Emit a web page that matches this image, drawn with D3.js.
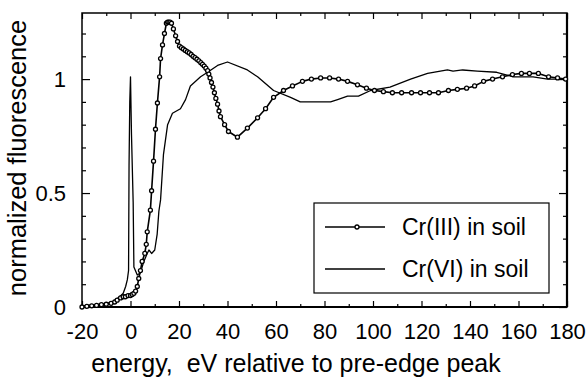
<!DOCTYPE html>
<html>
<head>
<meta charset="utf-8">
<script src="https://cdn.jsdelivr.net/npm/d3@7"></script>
<style>
  html, body { margin: 0; padding: 0; background: #fff; }
  svg { display: block; }
  text { font-family: "Liberation Sans", Arial, Helvetica, sans-serif; fill: #000; }
</style>
</head>
<body>
<svg id="chart" width="586" height="379"></svg>
<script>
// ---- data ----
const seriesNames = ["Cr(III) in soil", "Cr(VI) in soil"];

const crIIIEnergy = [-20, -18, -16, -14, -12, -10, -8, -6.5, -5.5, -4.1, -3, -2.1, -1, 0, 0.7, 1.4, 2.1, 2.8, 3.4, 4.1, 4.8, 5.9, 6.5, 6.9, 8.2, 8.7, 9.5, 10.3, 11.1, 12, 12.4, 13.2, 14, 14.8, 15.3, 15.8, 16.3, 16.9, 17.7, 18.6, 19.4, 20.2, 21, 21.8, 22.6, 23.4, 24.2, 25, 25.8, 26.6, 27.4, 28.2, 29, 29.7, 30.4, 31.1, 31.8, 32.3, 32.8, 33.4, 34, 34.6, 35.2, 35.9, 36.5, 37.1, 38.8, 40.4, 44.1, 48.2, 52.4, 55.7, 59, 63.1, 66.8, 70.9, 74.6, 78.4, 82.1, 85.8, 89.5, 93.6, 97.3, 100.6, 104.3, 108, 111.8, 115.9, 119.6, 123.3, 127, 131.1, 134.8, 138.6, 141.9, 145.6, 149.3, 153.4, 157.5, 161.2, 164.5, 168.2, 172.4, 176.1, 179.4];
const crIIIValue = [0.0, 0.003, 0.005, 0.007, 0.01, 0.012, 0.016, 0.022, 0.03, 0.04, 0.045, 0.045, 0.05, 0.05, 0.055, 0.06, 0.07, 0.09, 0.125, 0.16, 0.2, 0.235, 0.275, 0.33, 0.425, 0.51, 0.64, 0.78, 0.895, 1.01, 1.09, 1.15, 1.2, 1.245, 1.25, 1.25, 1.25, 1.245, 1.22, 1.19, 1.165, 1.145, 1.138, 1.132, 1.126, 1.12, 1.115, 1.108, 1.1, 1.094, 1.087, 1.08, 1.072, 1.065, 1.057, 1.048, 1.037, 1.022, 1.005, 0.985, 0.965, 0.94, 0.915, 0.89, 0.86, 0.835, 0.8, 0.77, 0.745, 0.785, 0.83, 0.87, 0.92, 0.95, 0.97, 0.99, 1.0, 1.005, 1.005, 1.0, 0.99, 0.975, 0.96, 0.95, 0.945, 0.94, 0.94, 0.94, 0.94, 0.94, 0.94, 0.95, 0.955, 0.96, 0.97, 0.99, 1.0, 1.01, 1.02, 1.025, 1.025, 1.025, 1.01, 1.005, 1.0];

const crVIEnergy = [-20, -15, -10, -7, -5, -3, -2, -1.3, -0.8, -0.6, -0.3, 0, 0.4, 1.1, 1.4, 2.8, 4.1, 5.5, 6.9, 7.6, 8.7, 10.0, 11.0, 11.7, 12.4, 13.6, 15.3, 17.3, 20.6, 22.7, 24.7, 28.9, 31.8, 35.9, 40, 48.2, 52.4, 59, 66, 70, 82.5, 85.4, 89.5, 94, 99, 107, 115.5, 122.5, 130.7, 133, 137, 143, 151, 158, 166, 172, 180];
const crVIValue = [0.005, 0.01, 0.015, 0.025, 0.04, 0.06, 0.09, 0.12, 0.16, 0.62, 0.9, 1.01, 0.76, 0.46, 0.175, 0.14, 0.15, 0.2, 0.235, 0.25, 0.235, 0.25, 0.32, 0.42, 0.47, 0.67, 0.8, 0.85, 0.87, 0.91, 0.97, 1.01, 1.03, 1.06, 1.075, 1.04, 1.01, 0.95, 0.92, 0.90, 0.90, 0.91, 0.925, 0.925, 0.95, 0.965, 1.0, 1.025, 1.04, 1.035, 1.04, 1.035, 1.03, 1.01, 1.01, 1.0, 1.0];

const xMajorTicks = [-20, 0, 20, 40, 60, 80, 100, 120, 140, 160, 180];
const xMinorTicks = [-10, 10, 30, 50, 70, 90, 110, 130, 150, 170];
const yMajorTicks = [0, 0.5, 1];
const yMinorTicks = [0.1, 0.2, 0.3, 0.4, 0.6, 0.7, 0.8, 0.9, 1.1, 1.2];
const xDomain = [-20, 180];
const yDomain = [0, 1.29];

const xTitle = "energy,\u00a0 eV relative to pre-edge peak";
const yTitle = "normalized fluorescence";

// ---- layout ----
const L = 82, R = 567, T = 13, B = 307;
const svg = d3.select("#chart");
const x = d3.scaleLinear().domain(xDomain).range([L, R]);
const y = d3.scaleLinear().domain(yDomain).range([B, T]);

function styleAxis(g) {
  g.select(".domain").remove();
  g.selectAll(".tick line").attr("stroke", "#000").attr("stroke-width", 1.2);
}

// bottom: major with labels
svg.append("g").attr("transform", `translate(0,${B})`)
  .call(d3.axisBottom(x).tickValues(xMajorTicks).tickSize(-6).tickPadding(16).tickFormat(d => String(d)))
  .call(styleAxis)
  .selectAll("text").attr("font-size", 22).attr("font-family", "Liberation Sans, Arial, sans-serif");
svg.append("g").attr("transform", `translate(0,${B})`)
  .call(d3.axisBottom(x).tickValues(xMinorTicks).tickSize(-3).tickFormat(""))
  .call(styleAxis);
// top
svg.append("g").attr("transform", `translate(0,${T})`)
  .call(d3.axisTop(x).tickValues(xMajorTicks).tickSize(-6).tickFormat(""))
  .call(styleAxis);
svg.append("g").attr("transform", `translate(0,${T})`)
  .call(d3.axisTop(x).tickValues(xMinorTicks).tickSize(-3).tickFormat(""))
  .call(styleAxis);
// left
svg.append("g").attr("transform", `translate(${L},0)`)
  .call(d3.axisLeft(y).tickValues(yMajorTicks).tickSize(-8).tickPadding(16).tickFormat(d => String(d)))
  .call(styleAxis)
  .selectAll("text").attr("font-size", 22).attr("font-family", "Liberation Sans, Arial, sans-serif");
svg.append("g").attr("transform", `translate(${L},0)`)
  .call(d3.axisLeft(y).tickValues(yMinorTicks).tickSize(-4).tickFormat(""))
  .call(styleAxis);
// right
svg.append("g").attr("transform", `translate(${R},0)`)
  .call(d3.axisRight(y).tickValues(yMajorTicks).tickSize(-8).tickFormat(""))
  .call(styleAxis);
svg.append("g").attr("transform", `translate(${R},0)`)
  .call(d3.axisRight(y).tickValues(yMinorTicks).tickSize(-4).tickFormat(""))
  .call(styleAxis);

// frame
svg.append("rect").attr("x", L).attr("y", T).attr("width", R - L).attr("height", B - T)
  .attr("fill", "none").attr("stroke", "#000").attr("stroke-width", 1.5);
svg.append("line").attr("x1", R).attr("x2", R).attr("y1", T).attr("y2", B)
  .attr("stroke", "#000").attr("stroke-width", 2.2);
svg.append("line").attr("x1", L).attr("x2", R).attr("y1", B).attr("y2", B)
  .attr("stroke", "#000").attr("stroke-width", 2);

// series
const crIII = crIIIEnergy.map((e, i) => ({ e, v: crIIIValue[i] }));
const crVI = crVIEnergy.map((e, i) => ({ e, v: crVIValue[i] }));
const line = d3.line().x(d => x(d.e)).y(d => y(d.v));

svg.append("path").datum(crVI).attr("d", line)
  .attr("fill", "none").attr("stroke", "#000").attr("stroke-width", 1.3).attr("stroke-linejoin", "round");
svg.append("path").datum(crIII).attr("d", line)
  .attr("fill", "none").attr("stroke", "#000").attr("stroke-width", 1.6).attr("stroke-linejoin", "round");
svg.append("g").selectAll("circle").data(crIII).join("circle")
  .attr("cx", d => x(d.e)).attr("cy", d => y(d.v)).attr("r", 2.0)
  .attr("fill", "#fff").attr("stroke", "#000").attr("stroke-width", 1.3);

// legend
const lg = svg.append("g");
lg.append("rect").attr("x", 314).attr("y", 203).attr("width", 235).attr("height", 90)
  .attr("fill", "#fff").attr("stroke", "#000").attr("stroke-width", 1.2);
const legendRows = [227, 269];
seriesNames.forEach((name, i) => {
  const yy = legendRows[i];
  lg.append("line").attr("x1", 325).attr("x2", 385).attr("y1", yy).attr("y2", yy)
    .attr("stroke", "#000").attr("stroke-width", i === 0 ? 1.6 : 1.3);
  if (i === 0) {
    lg.append("circle").attr("cx", 357).attr("cy", yy).attr("r", 2.0)
      .attr("fill", "#fff").attr("stroke", "#000").attr("stroke-width", 1.3);
  }
  lg.append("text").attr("x", 402).attr("y", yy + 8).attr("font-size", 23).text(name);
});

// titles
svg.append("text").attr("x", 296).attr("y", 372).attr("text-anchor", "middle")
  .attr("font-size", 25).text(xTitle);
svg.append("text").attr("transform", "translate(26,158) rotate(-90)").attr("text-anchor", "middle")
  .attr("font-size", 25.5).text(yTitle);
</script>
</body>
</html>
